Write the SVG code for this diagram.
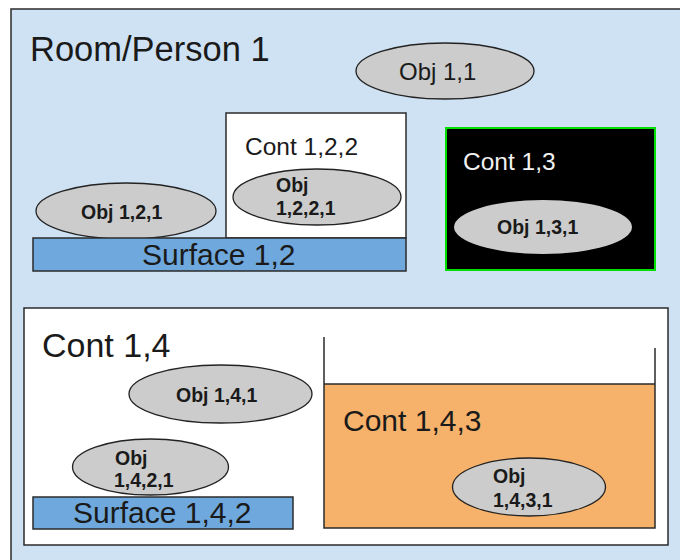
<svg xmlns="http://www.w3.org/2000/svg" width="680" height="560" viewBox="0 0 680 560">
<style>
.frame{stroke:#2b2b2b;stroke-width:1.5}
.obj{fill:#cccccc;stroke:#222;stroke-width:1.3}
.big{font-family:"Liberation Sans",Arial,sans-serif;fill:#1a1a1a}
.ob{font-family:"Liberation Sans",Arial,sans-serif;font-weight:bold;font-size:19.5px;fill:#1a1a1a}
.surf{fill:#6fa8dc;stroke:#2b2b2b;stroke-width:1.5}
</style>
<g id="room">
<rect class="frame" x="11" y="9" width="700" height="600" fill="#cfe2f3"/>
<text class="big" x="30" y="61" font-size="34.5">Room/Person 1</text>
</g>
<g id="obj11">
<ellipse class="obj" cx="445" cy="71" rx="89" ry="28"/>
<text class="big" x="399" y="80" font-size="24">Obj 1,1</text>
</g>
<g id="cont122">
<rect class="frame" x="226" y="113" width="180" height="125" fill="#ffffff"/>
<text class="big" x="245" y="155" font-size="24.5">Cont 1,2,2</text>
</g>
<g id="obj1221">
<ellipse class="obj" cx="317" cy="197" rx="84" ry="28"/>
<text class="ob" x="276" y="192">Obj</text>
<text class="ob" x="276" y="215">1,2,2,1</text>
</g>
<g id="obj121">
<ellipse class="obj" cx="126" cy="211" rx="90" ry="28"/>
<text class="ob" x="81" y="219">Obj 1,2,1</text>
</g>
<g id="surface12">
<rect class="surf" x="33" y="238" width="373" height="33"/>
<text class="big" x="142" y="265" font-size="30">Surface 1,2</text>
</g>
<g id="cont13">
<rect x="446" y="128" width="209" height="142" fill="#000000" stroke="#00e000" stroke-width="2"/>
<text class="big" x="463" y="170" font-size="24.5" style="fill:#f2f2f2">Cont 1,3</text>
</g>
<g id="obj131">
<ellipse cx="543" cy="227" rx="89" ry="27" fill="#cccccc"/>
<text class="ob" x="497" y="234">Obj 1,3,1</text>
</g>
<g id="cont14">
<rect class="frame" x="24" y="308" width="644" height="237" fill="#ffffff"/>
<text class="big" x="42" y="357" font-size="34">Cont 1,4</text>
</g>
<g id="cont143">
<rect x="324" y="384" width="331" height="144" fill="#f6b26b"/>
<path d="M324 337 V528 H655 V348 M324 384 H655" fill="none" stroke="#2b2b2b" stroke-width="1.5"/>
<text class="big" x="343" y="431" font-size="30">Cont 1,4,3</text>
</g>
<g id="obj141">
<ellipse class="obj" cx="220.5" cy="394" rx="91.5" ry="29"/>
<text class="ob" x="176" y="402">Obj 1,4,1</text>
</g>
<g id="obj1421">
<ellipse class="obj" cx="150.5" cy="467" rx="78" ry="28"/>
<text class="ob" x="115" y="465">Obj</text>
<text class="ob" x="114" y="487">1,4,2,1</text>
</g>
<g id="surface142">
<rect class="surf" x="33" y="497" width="260" height="32"/>
<text class="big" x="73" y="523" font-size="30">Surface 1,4,2</text>
</g>
<g id="obj1431">
<ellipse class="obj" cx="529" cy="487" rx="76.5" ry="29"/>
<text class="ob" x="493" y="483">Obj</text>
<text class="ob" x="493" y="507">1,4,3,1</text>
</g>
<g id="connectors"></g>
</svg>
